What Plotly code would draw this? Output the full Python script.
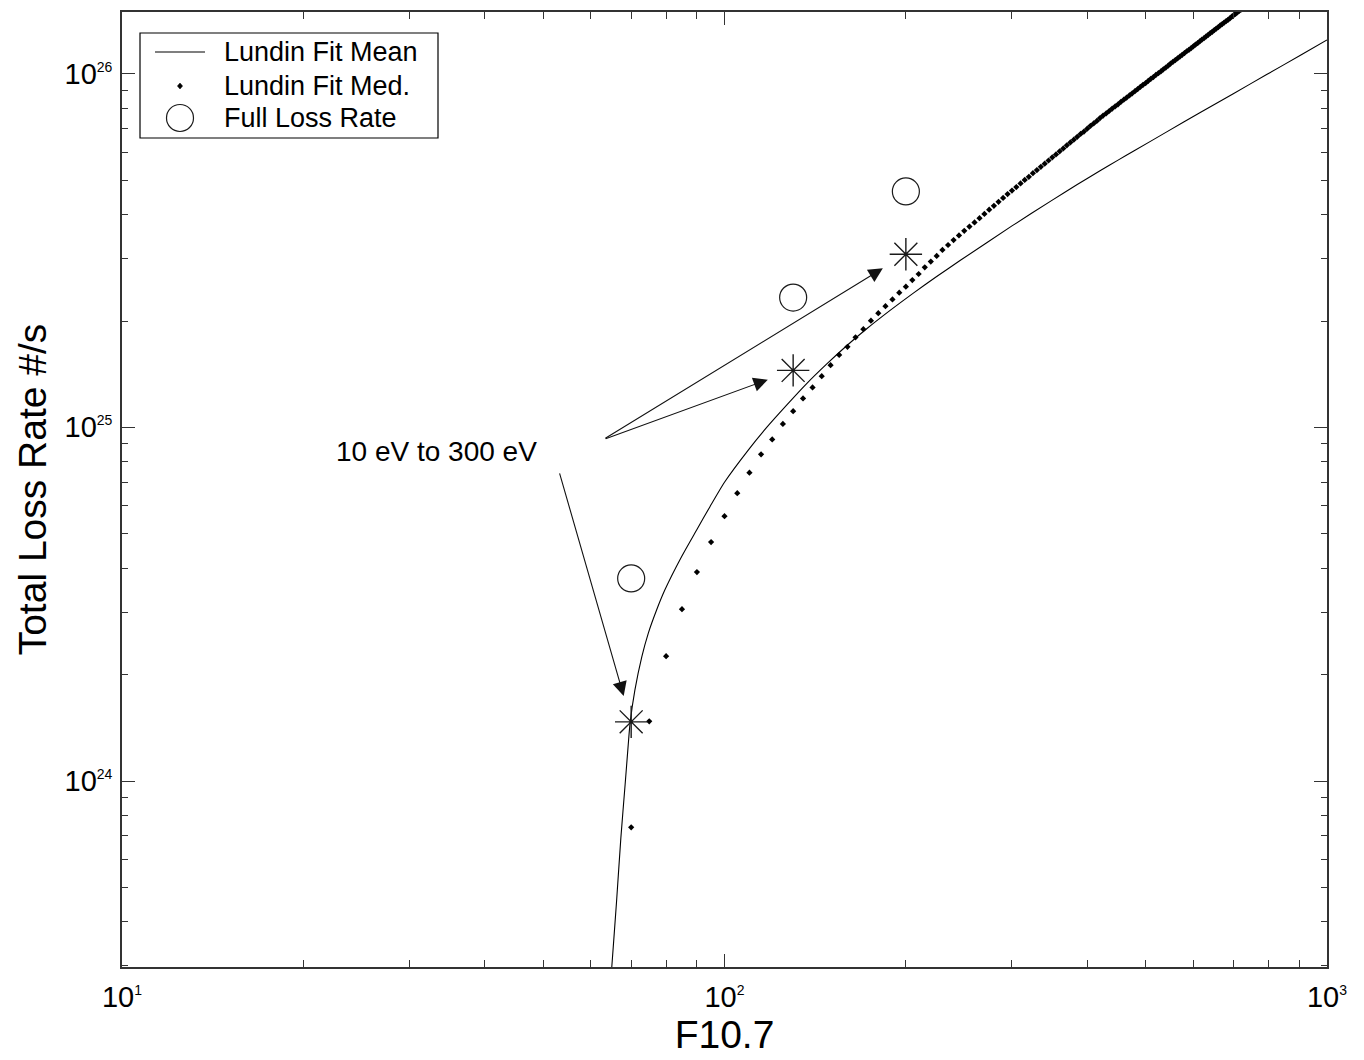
import math
import plotly.graph_objects as go

# Lundin fit, mean: F10.7 index and log10 of total loss rate (#/s)
f107_mean = [64.5, 65.0, 66.2, 67.3, 68.4, 69.2, 69.7, 71.0, 72.9, 74.7, 77.2,
             79.6, 84.9, 89.9, 94.6, 100.0, 109.5, 117.5, 126.8, 136.9, 147.7,
             159.5, 172.2, 188.3, 205.8, 225.0, 246.0, 300.0, 350.0, 385.0,
             420.0, 450.0, 477.0, 542.0, 615.0, 699.0, 794.0, 902.0, 1000.0]
log_rate_mean = [23.397, 23.474, 23.660, 23.840, 23.990, 24.100, 24.163, 24.257,
                 24.351, 24.417, 24.485, 24.540, 24.635, 24.710, 24.776, 24.845,
                 24.936, 25.000, 25.063, 25.124, 25.179, 25.231, 25.279, 25.331,
                 25.380, 25.427, 25.472, 25.570, 25.643, 25.687, 25.726, 25.756,
                 25.781, 25.836, 25.890, 25.944, 25.998, 26.052, 26.096]

# Lundin fit, median: sampled every 5 F10.7 units
f107_med = list(range(70, 725, 5))
log_rate_med = [
    23.869, 24.169, 24.353, 24.486, 24.591, 24.676, 24.749, 24.814, 24.872, 24.924,
    24.966, 25.010, 25.046, 25.082, 25.113, 25.145, 25.176, 25.205, 25.228, 25.255,
    25.278, 25.302, 25.323, 25.343, 25.362, 25.381, 25.398, 25.417, 25.434, 25.453,
    25.469, 25.485, 25.502, 25.516, 25.530, 25.543,
    25.556, 25.568, 25.580, 25.592, 25.604, 25.616, 25.627, 25.638, 25.649, 25.660,
    25.670, 25.680, 25.690, 25.700, 25.709, 25.719, 25.728, 25.737, 25.746, 25.755,
    25.764, 25.772, 25.781, 25.789, 25.798, 25.806, 25.814, 25.822, 25.830, 25.837,
    25.845, 25.853, 25.860, 25.867, 25.875, 25.882, 25.888, 25.895, 25.902, 25.908,
    25.914, 25.921, 25.927, 25.933, 25.939, 25.945, 25.951, 25.957, 25.963, 25.969,
    25.974, 25.980, 25.986, 25.991, 25.997, 26.002, 26.007, 26.013, 26.018, 26.023,
    26.029, 26.034, 26.039, 26.044, 26.049, 26.054, 26.059, 26.064, 26.068, 26.073,
    26.078, 26.083, 26.087, 26.092, 26.097, 26.101, 26.106, 26.110, 26.115, 26.119,
    26.124, 26.128, 26.132, 26.137, 26.141, 26.145, 26.149, 26.153, 26.157, 26.162,
    26.166, 26.170, 26.174, 26.178, 26.182,
]

# Full loss rate and the 10 eV - 300 eV partial loss rate
f107_cases = [70, 130, 200]
full_loss_rate = [3.74e24, 2.33e25, 4.65e25]
partial_loss_rate = [1.47e24, 1.45e25, 3.09e25]

legend_labels = ["Lundin Fit Mean", "Lundin Fit Med.", "Full Loss Rate"]

POW = "<span style='font-size:29px'>10</span><sup><span style='font-size:14px'>{}</span></sup>"
x_tick_vals = [10, 100, 1000]
x_tick_text = [POW.format(k) for k in (1, 2, 3)]
y_tick_vals = [1e24, 1e25, 1e26]
y_tick_text = [POW.format(k) for k in (24, 25, 26)]
x_minor = [m * 10 ** k for k in (1, 2) for m in range(2, 10)]
y_minor = [m * 10.0 ** k for k in (23, 24, 25) for m in range(2, 10)]

FONT = "Arial, 'Liberation Sans', sans-serif"
AXIS_COLOR = "#333333"
INK = "#1a1a1a"

fig = go.Figure()

fig.add_trace(go.Scatter(
    x=f107_mean, y=[10 ** v for v in log_rate_mean],
    mode="lines", name=legend_labels[0], showlegend=False,
    line=dict(color="black", width=1.1, shape="spline", smoothing=0.6),
))
fig.add_trace(go.Scatter(
    x=f107_med, y=[10 ** v for v in log_rate_med],
    mode="markers", name=legend_labels[1], showlegend=False,
    marker=dict(symbol="diamond", size=4.8, color="black"),
))
fig.add_trace(go.Scatter(
    x=f107_cases, y=full_loss_rate,
    mode="markers", name=legend_labels[2], showlegend=False,
    marker=dict(symbol="circle-open", size=27, color=INK,
                line=dict(width=1.2, color=INK)),
))
fig.add_trace(go.Scatter(
    x=f107_cases, y=partial_loss_rate,
    mode="markers", name="10 eV to 300 eV", showlegend=False,
    marker=dict(symbol="asterisk-open", size=27, color=INK,
                line=dict(width=1.4, color=INK)),
))

# arrows from the label to the partial loss-rate points (tail offsets in px)
tails = [(-72, -250), (-189, 69), (-302, 185)]
for fx, ry, (tx, ty) in zip(f107_cases, partial_loss_rate, tails):
    fig.add_annotation(
        x=math.log10(fx), y=math.log10(ry), xref="x", yref="y",
        ax=tx, ay=ty, axref="pixel", ayref="pixel",
        showarrow=True, arrowhead=2, arrowsize=2.6, arrowwidth=1.1,
        arrowcolor="#111111", standoff=27, text="",
    )

fig.add_annotation(
    x=0.2606, y=0.5403, xref="paper", yref="paper",
    xanchor="center", yanchor="middle",
    text="10 eV to 300 eV", showarrow=False,
    font=dict(family=FONT, size=28, color="black"),
)

# legend box drawn in paper coordinates
LX0, LX1, LY0, LY1 = 0.01494, 0.26224, 0.86806, 0.97801
KEY_X = 0.04813
row_y = [0.95812, 0.92251, 0.88901]
shapes = [
    dict(type="rect", xref="paper", yref="paper", x0=LX0, x1=LX1, y0=LY0, y1=LY1,
         line=dict(color="black", width=1.2), fillcolor="white", layer="above"),
    dict(type="line", xref="paper", yref="paper", x0=0.02739, x1=0.06888,
         y0=row_y[0], y1=row_y[0], line=dict(color="black", width=1.1), layer="above"),
    dict(type="path", xref="paper", yref="paper", xsizemode="pixel", ysizemode="pixel",
         xanchor=KEY_X, yanchor=row_y[1], path="M 0 3 L 2.6 0 L 0 -3 L -2.6 0 Z",
         fillcolor="black", line=dict(color="black", width=0.5), layer="above"),
    dict(type="circle", xref="paper", yref="paper", xsizemode="pixel", ysizemode="pixel",
         xanchor=KEY_X, yanchor=row_y[2], x0=-13.5, x1=13.5, y0=-13.5, y1=13.5,
         line=dict(color=INK, width=1.2), layer="above"),
]
for label, ry in zip(legend_labels, row_y):
    fig.add_annotation(
        x=0.08299, y=ry, xref="paper", yref="paper", xanchor="left", yanchor="middle",
        text=label, showarrow=False, font=dict(family=FONT, size=27, color="black"),
    )

axis_common = dict(
    type="log", showgrid=False, zeroline=False,
    showline=True, linecolor=AXIS_COLOR, linewidth=2, mirror="ticks",
    ticks="inside", ticklen=13, tickwidth=1, tickcolor=AXIS_COLOR,
    tickfont=dict(family=FONT, size=28, color="black"),
)

fig.update_xaxes(
    **axis_common, range=[1, 3],
    tickmode="array", tickvals=x_tick_vals, ticktext=x_tick_text,
    ticklabelstandoff=4,
    minor=dict(tickmode="array", tickvals=x_minor, ticks="inside",
               ticklen=7, tickwidth=1, tickcolor=AXIS_COLOR, showgrid=False),
    title=dict(text="F10.7", font=dict(family=FONT, size=39, color="black"),
               standoff=6),
)
fig.update_yaxes(
    **axis_common, range=[23.474, 26.175],
    tickmode="array", tickvals=y_tick_vals, ticktext=y_tick_text,
    ticklabelstandoff=2,
    minor=dict(tickmode="array", tickvals=y_minor, ticks="inside",
               ticklen=6, tickwidth=1, tickcolor=AXIS_COLOR, showgrid=False),
    title=dict(text="Total Loss Rate #/s",
               font=dict(family=FONT, size=39, color="black"), standoff=6),
)

fig.update_layout(
    width=1364, height=1060,
    margin=dict(l=122, r=37, t=12, b=93, autoexpand=False),
    plot_bgcolor="white", paper_bgcolor="white",
    font=dict(family=FONT, color="black"),
    showlegend=False,
    shapes=shapes,
)

fig.write_html("out.html")
